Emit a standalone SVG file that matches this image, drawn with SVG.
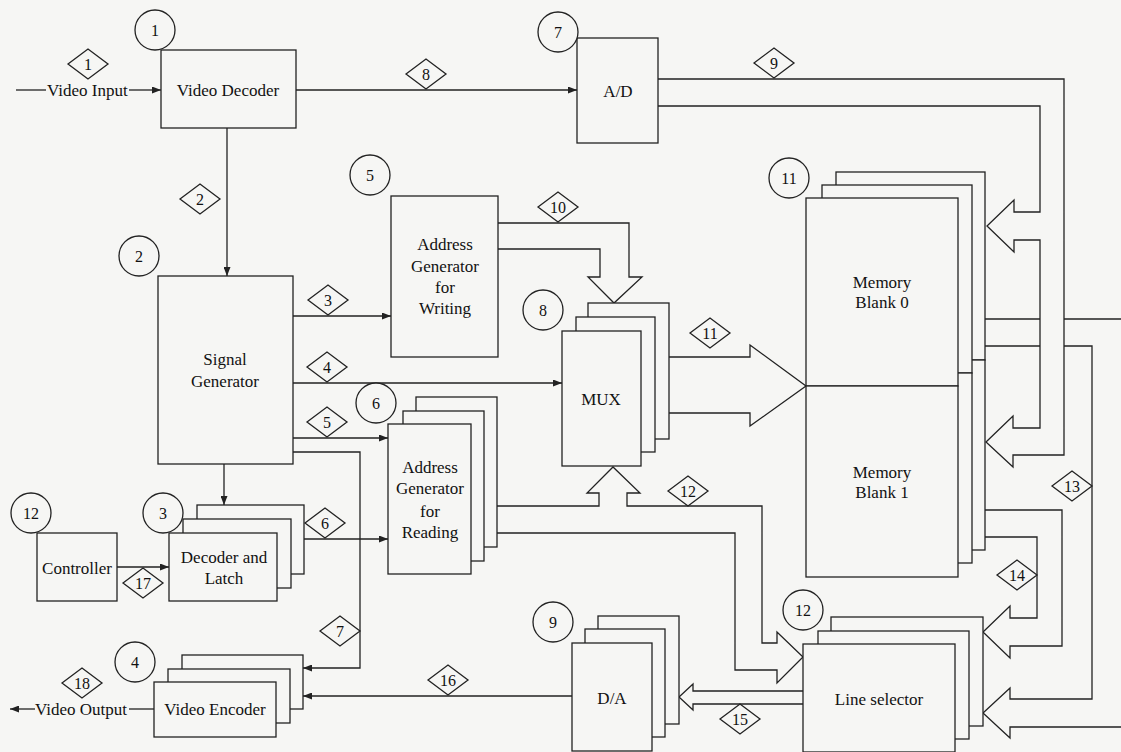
<svg xmlns="http://www.w3.org/2000/svg" width="1121" height="752" viewBox="0 0 1121 752">
<style>
.bg{fill:#f6f6f4}
.box{fill:#f6f6f4;stroke:#222;stroke-width:1.3}
.ln{fill:none;stroke:#222;stroke-width:1.3}
.bus{fill:none;stroke:#222;stroke-width:1.3;stroke-linejoin:miter}
.arr{marker-end:url(#ah)}
.badge{fill:#f6f6f4;stroke:#222;stroke-width:1.3}
.dia{fill:#f6f6f4;stroke:#222;stroke-width:1.3}
.lbl{font-family:"Liberation Serif","Times New Roman",serif;font-size:17px;fill:#111;text-anchor:middle}
.txt{font-family:"Liberation Serif","Times New Roman",serif;font-size:17px;fill:#111}
.num{font-family:"Liberation Serif","Times New Roman",serif;font-size:16px;fill:#111;text-anchor:middle}
</style>
<defs>
<marker id="ah" markerWidth="9" markerHeight="7" refX="9" refY="3.5" orient="auto" markerUnits="userSpaceOnUse">
<path d="M0,0 L9,3.5 L0,7 z" fill="#222"/>
</marker>
</defs>
<rect class="bg" x="0" y="0" width="1121" height="752"/>

<g id="connectors">
<!-- thin arrows -->
<line class="ln" x1="16" y1="90" x2="46" y2="90"/>
<line class="ln arr" x1="129" y1="90" x2="161" y2="90"/>
<line class="ln arr" x1="296" y1="90" x2="577" y2="90"/>
<line class="ln arr" x1="227" y1="128" x2="227" y2="276"/>
<line class="ln arr" x1="293" y1="316" x2="391" y2="316"/>
<line class="ln arr" x1="293" y1="383" x2="562" y2="383"/>
<line class="ln arr" x1="293" y1="438" x2="388" y2="438"/>
<polyline class="ln arr" points="293,452 360,452 360,668 303,668"/>
<line class="ln arr" x1="224" y1="464" x2="224" y2="505"/>
<line class="ln arr" x1="304" y1="539" x2="388" y2="539"/>
<line class="ln arr" x1="117" y1="567" x2="169" y2="567"/>
<line class="ln arr" x1="572" y1="696" x2="303" y2="696"/>
<line class="ln" x1="154" y1="709" x2="129" y2="709"/>
<line class="ln arr" x1="35" y1="709" x2="10" y2="709"/>
<!-- bus 9 : A/D to memory -->
<polyline class="bus" points="658,79 1064,79 1064,455 1013,455 1013,467 986,442 1013,416 1013,428 1040,428 1040,240 1014,240 1014,252 987,226 1014,200 1014,212 1040,212 1040,106 658,106"/>
<!-- bus 10 -->
<polyline class="bus" points="498,223 629,223 629,277 642,277 614,303 588,277 600,277 600,249 498,249"/>
<!-- bus 11 -->
<polyline class="bus" points="669,357 750,357 750,345 806,386 750,426 750,413 669,413"/>
<!-- bus 12 -->
<polyline class="bus" points="497,506 599,506 599,493 587,493 613,467 640,493 627,493 627,506 762,506 762,643 777,643 777,632 803,657 777,683 777,670 735,670 735,533 497,533"/>
<!-- bus memory to right edge -->
<line class="ln" x1="985" y1="319" x2="1040" y2="319"/>
<line class="ln" x1="1064" y1="319" x2="1121" y2="319"/>
<!-- bus 13 -->
<line class="ln" x1="985" y1="346" x2="1040" y2="346"/>
<polyline class="bus" points="1064,346 1092,346 1092,699 1010,699 1010,688 983,713 1010,738 1010,727 1121,727"/>
<!-- bus 14 -->
<polyline class="bus" points="984,537 1037,537 1037,618 1010,618 1010,606 983,632 1010,658 1010,646 1062,646 1062,510 984,510"/>
<!-- bus 15 -->
<polyline class="bus" points="803,691 693,691 693,684 679,697 693,710 693,704 803,704"/>
</g>

<g id="video-decoder">
<rect class="box" x="161" y="50" width="135" height="78"/>
<text class="lbl" x="228" y="96">Video Decoder</text>
</g>

<g id="ad">
<rect class="box" x="577" y="38" width="81" height="105"/>
<text class="lbl" x="618" y="97">A/D</text>
</g>

<g id="signal-generator">
<rect class="box" x="158" y="276" width="135" height="188"/>
<text class="lbl" x="225" y="365">Signal</text>
<text class="lbl" x="225" y="387">Generator</text>
</g>

<g id="addr-gen-writing">
<rect class="box" x="391" y="196" width="107" height="161"/>
<text class="lbl" x="445" y="250">Address</text>
<text class="lbl" x="445" y="272">Generator</text>
<text class="lbl" x="445" y="293">for</text>
<text class="lbl" x="445" y="314">Writing</text>
</g>

<g id="addr-gen-reading">
<rect class="box" x="416" y="397" width="81" height="150"/>
<rect class="box" x="403" y="411" width="81" height="150"/>
<rect class="box" x="388" y="424" width="83" height="150"/>
<text class="lbl" x="430" y="473">Address</text>
<text class="lbl" x="430" y="494">Generator</text>
<text class="lbl" x="430" y="517">for</text>
<text class="lbl" x="430" y="538">Reading</text>
</g>

<g id="mux">
<rect class="box" x="588" y="303" width="81" height="136"/>
<rect class="box" x="576" y="317" width="79" height="135"/>
<rect class="box" x="562" y="331" width="79" height="135"/>
<text class="lbl" x="601" y="405">MUX</text>
</g>

<g id="memory">
<rect class="box" x="836" y="172" width="149" height="188"/>
<rect class="box" x="836" y="360" width="149" height="190"/>
<rect class="box" x="822" y="185" width="150" height="188"/>
<rect class="box" x="822" y="373" width="150" height="190"/>
<rect class="box" x="806" y="198" width="152" height="188"/>
<rect class="box" x="806" y="386" width="152" height="191"/>
<text class="lbl" x="882" y="288">Memory</text>
<text class="lbl" x="882" y="308">Blank 0</text>
<text class="lbl" x="882" y="478">Memory</text>
<text class="lbl" x="882" y="498">Blank 1</text>
</g>

<g id="decoder-latch">
<rect class="box" x="197" y="505" width="107" height="69"/>
<rect class="box" x="183" y="519" width="108" height="69"/>
<rect class="box" x="169" y="533" width="108" height="68"/>
<text class="lbl" x="224" y="563">Decoder and</text>
<text class="lbl" x="224" y="584">Latch</text>
</g>

<g id="controller">
<rect class="box" x="37" y="533" width="80" height="68"/>
<text class="lbl" x="77" y="574">Controller</text>
</g>

<g id="video-encoder">
<rect class="box" x="182" y="655" width="121" height="54"/>
<rect class="box" x="168" y="669" width="122" height="54"/>
<rect class="box" x="154" y="682" width="122" height="55"/>
<text class="lbl" x="215" y="715">Video Encoder</text>
</g>

<g id="da">
<rect class="box" x="598" y="616" width="81" height="108"/>
<rect class="box" x="585" y="629" width="80" height="108"/>
<rect class="box" x="572" y="643" width="80" height="108"/>
<text class="lbl" x="612" y="704">D/A</text>
</g>

<g id="line-selector">
<rect class="box" x="831" y="617" width="152" height="109"/>
<rect class="box" x="818" y="631" width="151" height="108"/>
<rect class="box" x="803" y="644" width="152" height="108"/>
<text class="lbl" x="879" y="705">Line selector</text>
</g>

<g id="io-labels">
<text class="txt" x="47" y="96">Video Input</text>
<text class="txt" x="35" y="715">Video Output</text>
</g>

<g id="circles">
<circle class="badge" cx="155" cy="30" r="20"/><text class="num" x="155" y="36">1</text>
<circle class="badge" cx="139" cy="256" r="20"/><text class="num" x="139" y="262">2</text>
<circle class="badge" cx="163" cy="513" r="20"/><text class="num" x="163" y="519">3</text>
<circle class="badge" cx="135" cy="662" r="20"/><text class="num" x="135" y="668">4</text>
<circle class="badge" cx="370" cy="175" r="20"/><text class="num" x="370" y="181">5</text>
<circle class="badge" cx="376" cy="403" r="20"/><text class="num" x="376" y="409">6</text>
<circle class="badge" cx="558" cy="32" r="20"/><text class="num" x="558" y="38">7</text>
<circle class="badge" cx="543" cy="310" r="20"/><text class="num" x="543" y="316">8</text>
<circle class="badge" cx="553" cy="622" r="20"/><text class="num" x="553" y="628">9</text>
<circle class="badge" cx="789" cy="178" r="20"/><text class="num" x="789" y="184">11</text>
<circle class="badge" cx="31" cy="513" r="20"/><text class="num" x="31" y="519">12</text>
<circle class="badge" cx="803" cy="610" r="20"/><text class="num" x="803" y="616">12</text>
</g>

<g id="diamonds">
<polygon class="dia" points="68,64 88,49 108,64 88,79"/><text class="num" x="88" y="70">1</text>
<polygon class="dia" points="180,199 200,184 220,199 200,214"/><text class="num" x="200" y="205">2</text>
<polygon class="dia" points="308,300 328,285 348,300 328,315"/><text class="num" x="328" y="306">3</text>
<polygon class="dia" points="307,367 327,352 347,367 327,382"/><text class="num" x="327" y="373">4</text>
<polygon class="dia" points="307,422 327,407 347,422 327,437"/><text class="num" x="327" y="428">5</text>
<polygon class="dia" points="305,523 325,508 345,523 325,538"/><text class="num" x="325" y="529">6</text>
<polygon class="dia" points="320,631 340,616 360,631 340,646"/><text class="num" x="340" y="637">7</text>
<polygon class="dia" points="406,74 426,59 446,74 426,89"/><text class="num" x="426" y="80">8</text>
<polygon class="dia" points="754,63 774,48 794,63 774,78"/><text class="num" x="774" y="69">9</text>
<polygon class="dia" points="538,207 558,192 578,207 558,222"/><text class="num" x="558" y="213">10</text>
<polygon class="dia" points="690,333 710,318 730,333 710,348"/><text class="num" x="710" y="339">11</text>
<polygon class="dia" points="668,491 688,476 708,491 688,506"/><text class="num" x="688" y="497">12</text>
<polygon class="dia" points="1052,486 1072,471 1092,486 1072,501"/><text class="num" x="1072" y="492">13</text>
<polygon class="dia" points="997,575 1017,560 1037,575 1017,590"/><text class="num" x="1017" y="581">14</text>
<polygon class="dia" points="720,719 740,704 760,719 740,734"/><text class="num" x="740" y="725">15</text>
<polygon class="dia" points="428,680 448,665 468,680 448,695"/><text class="num" x="448" y="686">16</text>
<polygon class="dia" points="123,583 143,568 163,583 143,598"/><text class="num" x="143" y="589">17</text>
<polygon class="dia" points="62,683 82,668 102,683 82,698"/><text class="num" x="82" y="689">18</text>
</g>
</svg>
